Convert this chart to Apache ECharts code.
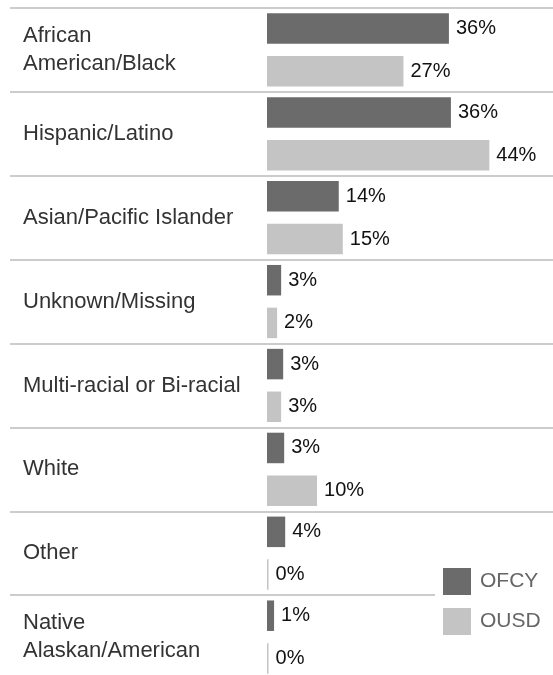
<!DOCTYPE html>
<html>
<head>
<meta charset="utf-8">
<script src="https://cdn.jsdelivr.net/npm/echarts@6/dist/echarts.min.js"></script>
<style>
html,body{margin:0;padding:0;background:#fff;}
#c{width:553px;height:675px;}
</style>
</head>
<body>
<div id="c"></div>
<script>
var categories = [
  "African\nAmerican/Black",
  "Hispanic/Latino",
  "Asian/Pacific Islander",
  "Unknown/Missing",
  "Multi-racial or Bi-racial",
  "White",
  "Other",
  "Native\nAlaskan/American"
];
var seriesNames = ["OFCY", "OUSD"];
var ofcy = [36.0, 36.4, 14.2, 2.8, 3.2, 3.4, 3.6, 1.4];
var ousd = [27.0, 44.0, 15.0, 2.0, 2.8, 9.9, 0.3, 0.3];

var FONT = "'Liberation Sans', Arial, sans-serif";
var SEP = '#cccccc';

var chart = echarts.init(document.getElementById('c'), null, {renderer: 'canvas'});
function labelCfg() {
  return {
    show: true,
    position: 'right',
    distance: 7,
    color: '#111111',
    fontSize: 20,
    fontFamily: FONT,
    formatter: function (p) { return Math.round(p.value) + '%'; }
  };
}
chart.setOption({
  animation: false,
  backgroundColor: '#ffffff',
  grid: {left: 267, top: 8, right: 0, height: 671, containLabel: false, outerBoundsMode: 'none'},
  legend: {
    orient: 'vertical',
    left: 435,
    top: 563,
    padding: [5, 30, 5, 8],
    backgroundColor: '#ffffff',
    itemWidth: 28,
    itemHeight: 27,
    itemGap: 13,
    icon: 'rect',
    data: seriesNames,
    textStyle: {color: '#666666', fontSize: 21, fontFamily: FONT, padding: [0, 0, 0, 4]}
  },
  xAxis: {
    type: 'value',
    min: 0,
    max: 56.6,
    show: false,
    splitLine: {show: false}
  },
  yAxis: {
    type: 'category',
    inverse: true,
    data: categories,
    boundaryGap: true,
    axisLine: {show: false},
    axisTick: {show: true, length: 257, interval: 0, lineStyle: {color: SEP, width: 2}},
    splitLine: {show: true, interval: 0, lineStyle: {color: SEP, width: 2}},
    axisLabel: {
      interval: 0,
      align: 'left',
      margin: 244,
      color: '#333333',
      fontSize: 22,
      lineHeight: 28,
      fontFamily: FONT
    }
  },
  series: [
    {
      name: seriesNames[0],
      type: 'bar',
      data: ofcy,
      barWidth: 30.5,
      barGap: '40%',
      itemStyle: {color: '#6b6b6b'},
      label: labelCfg()
    },
    {
      name: seriesNames[1],
      type: 'bar',
      data: ousd,
      barWidth: 30.5,
      barGap: '40%',
      itemStyle: {color: '#c4c4c4'},
      label: labelCfg()
    }
  ]
});
</script>
</body>
</html>
